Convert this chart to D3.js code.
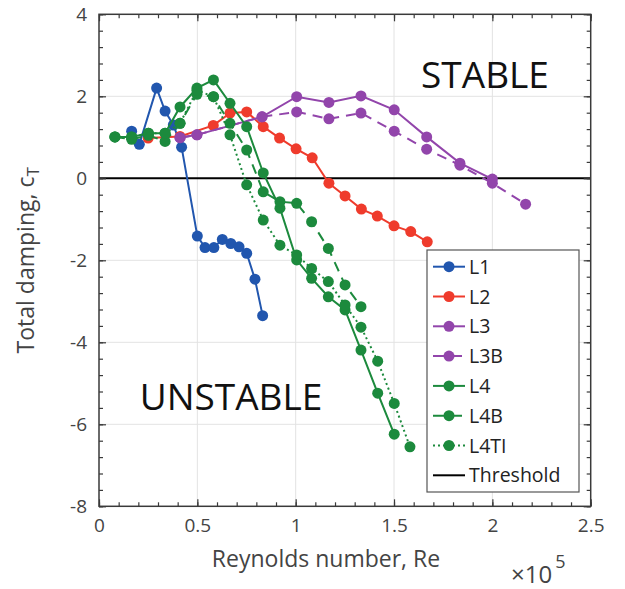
<!DOCTYPE html>
<html>
<head>
<meta charset="utf-8">
<script src="https://cdn.jsdelivr.net/npm/d3@7"></script>
<style>
  body { margin: 0; background: #fff; }
  text { font-family: "Open Sans", "Noto Sans", sans-serif; }
</style>
</head>
<body>
<div class="main"></div>
<script>
// Reynolds number (x 10^5) and total damping c_T for each case
let l1_re = [0.166, 0.205, 0.293, 0.336, 0.378, 0.420, 0.500, 0.539, 0.584, 0.627, 0.670, 0.712, 0.751, 0.793, 0.832];
let l1_ct = [1.15, 0.83, 2.20, 1.64, 1.30, 0.76, -1.41, -1.69, -1.69, -1.49, -1.59, -1.67, -1.83, -2.46, -3.35];

let l2_re = [0.250, 0.412, 0.581, 0.666, 0.751, 0.835, 0.918, 1.002, 1.084, 1.169, 1.251, 1.334, 1.415, 1.500, 1.585, 1.669];
let l2_ct = [0.98, 1.02, 1.29, 1.59, 1.62, 1.26, 0.98, 0.72, 0.50, -0.12, -0.43, -0.75, -0.92, -1.16, -1.30, -1.55];

let l3_re = [0.412, 0.498, 0.829, 1.005, 1.169, 1.332, 1.501, 1.666, 1.835, 2.000];
let l3_ct = [0.99, 1.06, 1.50, 1.99, 1.85, 2.01, 1.67, 1.01, 0.37, -0.02];

let l3b_re = [0.412, 0.498, 0.829, 1.005, 1.169, 1.332, 1.501, 1.666, 1.835, 2.000, 2.169];
let l3b_ct = [0.99, 1.06, 1.50, 1.62, 1.45, 1.59, 1.15, 0.71, 0.32, -0.12, -0.63];

let l4_re = [0.081, 0.166, 0.251, 0.336, 0.412, 0.498, 0.582, 0.666, 0.751, 0.835, 0.920, 1.005, 1.081, 1.166, 1.251, 1.332, 1.417, 1.501];
let l4_ct = [1.01, 1.01, 1.10, 1.10, 1.74, 2.20, 2.40, 1.83, 1.26, 0.13, -0.73, -1.99, -2.44, -2.89, -3.21, -4.19, -5.24, -6.24];

let l4b_re = [0.081, 0.166, 0.251, 0.336, 0.412, 0.498, 0.582, 0.666, 0.751, 0.835, 0.920, 1.005, 1.081, 1.166, 1.251, 1.332];
let l4b_ct = [1.01, 0.95, 1.05, 0.90, 1.34, 2.05, 1.99, 1.34, 0.69, -0.33, -0.57, -0.61, -1.06, -1.71, -2.60, -3.13];

let l4ti_re = [0.081, 0.166, 0.251, 0.336, 0.412, 0.498, 0.582, 0.666, 0.751, 0.835, 0.920, 1.005, 1.081, 1.166, 1.251, 1.332, 1.417, 1.501, 1.581];
let l4ti_ct = [1.01, 1.01, 1.10, 1.10, 1.34, 2.15, 1.99, 1.06, -0.16, -1.02, -1.63, -1.87, -2.20, -2.52, -3.09, -3.63, -4.46, -5.49, -6.55];

let case_names = ["L1", "L2", "L3", "L3B", "L4", "L4B", "L4TI"];

let x_ticks = [0, 0.5, 1, 1.5, 2, 2.5];
let y_ticks = [-8, -6, -4, -2, 0, 2, 4];

let width = 625,
    height = 589;

let svg = d3.select("body").select("div.main").append("svg")
  .attr("width", width)
  .attr("height", height);

// plot box
let pLeft = 99, pRight = 590.7, pTop = 14.3, pBottom = 506.3;

let x = d3.scaleLinear().domain([0, 2.5]).range([pLeft, pRight]);
let y = d3.scaleLinear().domain([-8, 4]).range([pBottom, pTop]);

let blue = "#2156ae",
    red = "#ef3b2c",
    purple = "#9245ab",
    green = "#1c8a3d";

let series = [
  { name: case_names[0], re: l1_re, ct: l1_ct, color: blue, dash: null },
  { name: case_names[1], re: l2_re, ct: l2_ct, color: red, dash: null },
  { name: case_names[2], re: l3_re, ct: l3_ct, color: purple, dash: null },
  { name: case_names[3], re: l3b_re, ct: l3b_ct, color: purple, dash: "10,7" },
  { name: case_names[4], re: l4_re, ct: l4_ct, color: green, dash: null },
  { name: case_names[5], re: l4b_re, ct: l4b_ct, color: green, dash: "10,7" },
  { name: case_names[6], re: l4ti_re, ct: l4ti_ct, color: green, dash: "2,3" }
];

// grid
svg.append("g").selectAll("line")
  .data(x_ticks.slice(1, -1))
  .enter().append("line")
  .attr("x1", d => x(d)).attr("x2", d => x(d))
  .attr("y1", pTop).attr("y2", pBottom)
  .attr("stroke", "#e3e3e3").attr("stroke-width", 1);

svg.append("g").selectAll("line")
  .data(y_ticks.slice(1, -1))
  .enter().append("line")
  .attr("x1", pLeft).attr("x2", pRight)
  .attr("y1", d => y(d)).attr("y2", d => y(d))
  .attr("stroke", "#e3e3e3").attr("stroke-width", 1);

// threshold at c_T = 0
svg.append("line")
  .attr("x1", pLeft).attr("x2", pRight)
  .attr("y1", y(0)).attr("y2", y(0))
  .attr("stroke", "#000").attr("stroke-width", 2);

// axes, ticks pointing inward, minor ticks too
let axisColor = "#3a3a3a";
let fmt = d => String(d).replace("\u2212", "-");
let minorX = d3.range(0, 2.501, 0.1);
let minorY = d3.range(-8, 4.001, 0.4);

function styleAxis(g) {
  g.select(".domain").remove();
  g.selectAll("line").attr("stroke", axisColor).attr("stroke-width", 1.2);
  g.selectAll("text").attr("fill", "#444").attr("font-size", "19px")
    .attr("font-family", "'Open Sans', 'Noto Sans', sans-serif");
}

let gx = svg.append("g").attr("transform", "translate(0," + pBottom + ")")
  .call(d3.axisBottom(x).tickValues(x_ticks).tickFormat(fmt).tickSize(-7).tickPadding(12));
styleAxis(gx);
let gxm = svg.append("g").attr("transform", "translate(0," + pBottom + ")")
  .call(d3.axisBottom(x).tickValues(minorX).tickFormat("").tickSize(-4));
styleAxis(gxm);
let gxt = svg.append("g").attr("transform", "translate(0," + pTop + ")")
  .call(d3.axisTop(x).tickValues(x_ticks).tickFormat("").tickSize(-7));
styleAxis(gxt);
let gxtm = svg.append("g").attr("transform", "translate(0," + pTop + ")")
  .call(d3.axisTop(x).tickValues(minorX).tickFormat("").tickSize(-4));
styleAxis(gxtm);

let gy = svg.append("g").attr("transform", "translate(" + pLeft + ",0)")
  .call(d3.axisLeft(y).tickValues(y_ticks).tickFormat(fmt).tickSize(-7).tickPadding(12));
styleAxis(gy);
let gym = svg.append("g").attr("transform", "translate(" + pLeft + ",0)")
  .call(d3.axisLeft(y).tickValues(minorY).tickFormat("").tickSize(-4));
styleAxis(gym);
let gyr = svg.append("g").attr("transform", "translate(" + pRight + ",0)")
  .call(d3.axisRight(y).tickValues(y_ticks).tickFormat("").tickSize(-7));
styleAxis(gyr);
let gyrm = svg.append("g").attr("transform", "translate(" + pRight + ",0)")
  .call(d3.axisRight(y).tickValues(minorY).tickFormat("").tickSize(-4));
styleAxis(gyrm);

svg.append("rect")
  .attr("x", pLeft).attr("y", pTop)
  .attr("width", pRight - pLeft).attr("height", pBottom - pTop)
  .attr("fill", "none").attr("stroke", axisColor).attr("stroke-width", 1.5);

// data lines and markers
let line = d3.line()
  .x(d => x(d[0]))
  .y(d => y(d[1]));

series.forEach(function(s) {
  let pts = s.re.map((r, i) => [r, s.ct[i]]);
  svg.append("path")
    .datum(pts)
    .attr("d", line)
    .attr("fill", "none")
    .attr("stroke", s.color)
    .attr("stroke-width", 2)
    .attr("stroke-dasharray", s.dash);
  svg.append("g").selectAll("circle")
    .data(pts)
    .enter().append("circle")
    .attr("cx", d => x(d[0]))
    .attr("cy", d => y(d[1]))
    .attr("r", 5.5)
    .attr("fill", s.color);
});

// region labels
svg.append("text").text("STABLE")
  .attr("x", 485).attr("y", 88)
  .attr("text-anchor", "middle")
  .attr("font-size", "37px").attr("fill", "#111");

svg.append("text").text("UNSTABLE")
  .attr("x", 231).attr("y", 410)
  .attr("text-anchor", "middle")
  .attr("font-size", "37px").attr("fill", "#111");

// axis titles
svg.append("text").text("Reynolds number, Re")
  .attr("x", 326).attr("y", 567)
  .attr("text-anchor", "middle")
  .attr("font-size", "23px").attr("fill", "#444");

let mult = svg.append("text")
  .attr("x", 511).attr("y", 583)
  .attr("font-size", "24px").attr("fill", "#444");
mult.append("tspan").text("\u00d710");
mult.append("tspan").text("5").attr("font-size", "18px").attr("dy", "-0.85em").attr("dx", "3");

let ylab = svg.append("text")
  .attr("transform", "translate(34," + ((pTop + pBottom) / 2) + ")rotate(-90)")
  .attr("text-anchor", "middle")
  .attr("font-size", "23px").attr("fill", "#444");
ylab.append("tspan").text("Total damping, c");
ylab.append("tspan").text("T").attr("font-size", "17px").attr("dy", "0.3em");

// legend
let lgX = 427, lgY = 250, lgW = 152, lgH = 242, lgStep = 29.8;
svg.append("rect")
  .attr("x", lgX).attr("y", lgY)
  .attr("width", lgW).attr("height", lgH)
  .attr("fill", "#fff").attr("stroke", "#555").attr("stroke-width", 1.2);

let entries = series.concat([{ name: "Threshold", color: "#000", dash: null, noMarker: true }]);
entries.forEach(function(s, i) {
  let cy = lgY + 16.7 + i * lgStep;
  svg.append("line")
    .attr("x1", lgX + 6).attr("x2", lgX + 38)
    .attr("y1", cy).attr("y2", cy)
    .attr("stroke", s.color).attr("stroke-width", 2)
    .attr("stroke-dasharray", s.dash ? (s.dash == "2,3" ? "2,3" : "12,5") : null);
  if (!s.noMarker) {
    svg.append("circle")
      .attr("cx", lgX + 22).attr("cy", cy).attr("r", 5.5)
      .attr("fill", s.color);
  }
  svg.append("text").text(s.name)
    .attr("x", lgX + 42).attr("y", cy)
    .attr("dy", "0.36em")
    .attr("font-size", "19.5px").attr("fill", "#222");
});
</script>
</body>
</html>
